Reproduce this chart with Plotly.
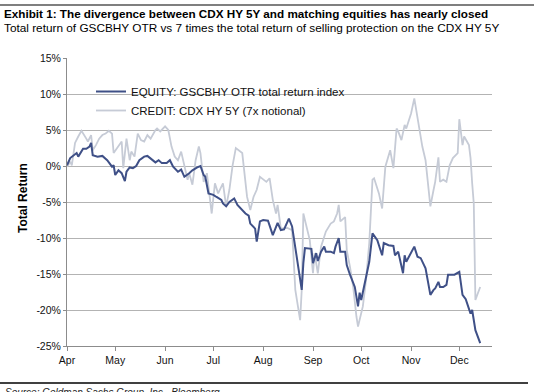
import plotly.graph_objects as go

# ---------------- data ----------------
equity_dates = [
    "2015-04-01", "2015-04-03", "2015-04-07", "2015-04-08", "2015-04-11", "2015-04-13",
    "2015-04-15", "2015-04-16", "2015-04-17", "2015-04-20", "2015-04-23", "2015-04-26",
    "2015-04-29", "2015-04-30", "2015-05-01", "2015-05-03", "2015-05-05", "2015-05-07",
    "2015-05-08", "2015-05-10", "2015-05-12", "2015-05-14", "2015-05-16", "2015-05-19",
    "2015-05-21", "2015-05-24", "2015-05-26", "2015-05-28", "2015-05-30", "2015-06-02",
    "2015-06-04", "2015-06-06", "2015-06-09", "2015-06-11", "2015-06-13", "2015-06-16",
    "2015-06-18", "2015-06-21", "2015-06-23", "2015-06-25", "2015-06-26", "2015-06-28",
    "2015-07-01", "2015-07-03", "2015-07-06", "2015-07-07", "2015-07-09", "2015-07-11",
    "2015-07-14", "2015-07-16", "2015-07-18", "2015-07-21", "2015-07-23", "2015-07-24",
    "2015-07-27", "2015-07-28", "2015-07-30", "2015-08-01", "2015-08-04", "2015-08-07",
    "2015-08-10", "2015-08-12", "2015-08-14", "2015-08-17", "2015-08-19", "2015-08-21",
    "2015-08-23", "2015-08-25", "2015-08-26", "2015-08-27", "2015-08-31", "2015-09-01",
    "2015-09-03", "2015-09-04", "2015-09-06", "2015-09-08", "2015-09-09", "2015-09-12",
    "2015-09-14", "2015-09-15", "2015-09-17", "2015-09-18", "2015-09-21", "2015-09-22",
    "2015-09-24", "2015-09-27", "2015-09-29", "2015-09-30", "2015-10-01", "2015-10-04",
    "2015-10-06", "2015-10-08", "2015-10-11", "2015-10-14", "2015-10-15", "2015-10-18",
    "2015-10-21", "2015-10-22", "2015-10-24", "2015-10-27", "2015-10-28", "2015-10-29",
    "2015-11-03", "2015-11-05", "2015-11-07", "2015-11-10", "2015-11-13", "2015-11-15",
    "2015-11-16", "2015-11-18", "2015-11-19", "2015-11-21", "2015-11-23", "2015-11-24",
    "2015-11-26", "2015-11-28", "2015-12-01", "2015-12-03", "2015-12-05", "2015-12-08",
    "2015-12-09", "2015-12-11", "2015-12-14",
]
equity_values = [
    0.1, 1.1, 1.8, 1.3, 2.4, 2.4,
    2.7, 3.2, 1.5, 1.3, 1.4, 0.8,
    -0.1, 0.1, -1.25, -0.6, -1.0, -2.1,
    -0.8, -0.2, -0.3, 0.0, 0.8, 1.3,
    1.4, 0.9, 0.5, 0.8, 0.4, 0.4,
    0.8, -0.1, -0.8, -0.5, -1.5, -1.0,
    -0.6, -0.2, 0.0, -1.25, -1.5, -3.8,
    -4.0, -4.3, -4.7, -5.2, -5.6, -5.0,
    -4.5, -5.4, -5.9, -6.6, -6.9, -8.0,
    -8.7, -10.5, -7.7, -7.5, -7.6, -9.6,
    -7.9, -8.9, -8.8, -7.3, -8.4, -11.2,
    -14.2, -17.2, -13.5, -11.4, -11.5, -13.5,
    -12.1, -13.2, -11.9, -11.2, -11.9, -11.9,
    -12.1, -11.2, -10.0, -11.9, -11.9, -13.75,
    -15.1, -16.8, -19.5, -17.6, -18.6, -15.4,
    -13.3, -9.35, -10.3, -12.4, -10.7, -11.0,
    -11.1, -12.4, -11.9, -14.9, -12.4, -13.3,
    -11.2, -12.6, -12.8, -14.2, -17.9, -17.2,
    -17.0, -16.1, -16.8, -16.8, -16.5, -15.1,
    -15.1, -15.1, -14.7, -17.9, -18.5, -20.5,
    -20.0, -22.8, -24.6,
]

credit_dates = [
    "2015-04-01", "2015-04-03", "2015-04-04", "2015-04-06", "2015-04-08", "2015-04-10",
    "2015-04-13", "2015-04-14", "2015-04-16", "2015-04-17", "2015-04-19", "2015-04-21",
    "2015-04-23", "2015-04-25", "2015-04-27", "2015-04-29", "2015-04-30", "2015-05-02",
    "2015-05-05", "2015-05-06", "2015-05-08", "2015-05-10", "2015-05-11", "2015-05-13",
    "2015-05-15", "2015-05-17", "2015-05-19", "2015-05-21", "2015-05-23", "2015-05-26",
    "2015-05-27", "2015-05-29", "2015-06-01", "2015-06-03", "2015-06-05", "2015-06-07",
    "2015-06-09", "2015-06-11", "2015-06-13", "2015-06-15", "2015-06-16", "2015-06-18",
    "2015-06-20", "2015-06-22", "2015-06-23", "2015-06-25", "2015-06-27", "2015-06-30",
    "2015-07-02", "2015-07-04", "2015-07-07", "2015-07-09", "2015-07-11", "2015-07-13",
    "2015-07-15", "2015-07-17", "2015-07-19", "2015-07-22", "2015-07-24", "2015-07-26",
    "2015-07-28", "2015-07-30", "2015-08-03", "2015-08-05", "2015-08-07", "2015-08-09",
    "2015-08-10", "2015-08-12", "2015-08-16", "2015-08-19", "2015-08-21", "2015-08-24",
    "2015-08-25", "2015-08-26", "2015-08-28", "2015-08-30", "2015-09-01", "2015-09-02",
    "2015-09-04", "2015-09-06", "2015-09-09", "2015-09-12", "2015-09-14", "2015-09-16",
    "2015-09-17", "2015-09-18", "2015-09-21", "2015-09-22", "2015-09-24", "2015-09-26",
    "2015-09-28", "2015-09-29", "2015-10-02", "2015-10-04", "2015-10-06", "2015-10-07",
    "2015-10-08", "2015-10-09", "2015-10-12", "2015-10-14", "2015-10-16", "2015-10-19",
    "2015-10-21", "2015-10-23", "2015-10-24", "2015-10-26", "2015-10-28", "2015-10-29",
    "2015-11-01", "2015-11-03", "2015-11-05", "2015-11-06", "2015-11-08", "2015-11-10",
    "2015-11-13", "2015-11-15", "2015-11-16", "2015-11-18", "2015-11-19", "2015-11-21",
    "2015-11-23", "2015-11-25", "2015-11-27", "2015-11-30", "2015-12-01", "2015-12-03",
    "2015-12-04", "2015-12-07", "2015-12-08", "2015-12-09", "2015-12-10", "2015-12-11",
    "2015-12-14",
]
credit_values = [
    -0.1, 0.6, 0.1, 3.2, 4.1, 4.9,
    3.8, 3.4, 4.3, 2.2, 2.9, 3.8,
    4.3, 4.5, 4.9, 4.5, 1.8, 2.5,
    3.4, -0.3, 3.8, 0.8, 2.0, 1.3,
    4.5, 3.6, 3.4, 4.3, 3.8, 5.0,
    5.2, 4.8, 5.5, 5.0, 2.7, 1.3,
    0.8, 2.0, 0.1, -1.9, -1.0, -2.6,
    0.8, 2.7, 1.8, -2.2, -1.0, -6.6,
    -2.4, -3.8, -2.4, -5.6, -3.3, 0.1,
    2.5, 2.2, 1.8, -4.3, -6.1, -4.3,
    -3.3, -1.5, -2.2, -1.7, -4.7, -6.6,
    -5.4, -8.7, -8.6, -8.9, -17.2, -21.4,
    -17.2, -6.6, -8.4, -10.3, -14.9, -12.1,
    -14.9, -11.2, -9.1, -8.0, -7.7, -6.6,
    -5.4, -7.7, -7.1, -11.7, -14.0, -16.8,
    -20.9, -22.3, -19.5, -15.8, -10.7, -5.2,
    -1.9, -1.7, -3.8, -5.9, -0.1, 2.2,
    -0.3, 5.2, 4.8, 3.6, 5.7, 5.2,
    7.3, 9.4, 6.6, 5.0, 2.7, 0.8,
    -5.6, -3.3, -2.2, 1.2, -2.2, -1.9,
    -2.2, 0.1, 1.1, 1.8, 6.5, 2.9,
    4.1, 2.9, 1.1, -2.4, -5.2, -18.6,
    -16.8,
]

series_names = ["EQUITY: GSCBHY OTR total return index", "CREDIT: CDX HY 5Y (7x notional)"]
y_tick_values = [15, 10, 5, 0, -5, -10, -15, -20, -25]
y_tick_labels = ["15%", "10%", "5%", "0%", "-5%", "-10%", "-15%", "-20%", "-25%"]

title_text = "Exhibit 1: The divergence between CDX HY 5Y and matching equities has nearly closed"
subtitle_text = "Total return of GSCBHY OTR vs 7 times the total return of selling protection on the CDX HY 5Y"
source_text = "Source: Goldman Sachs Group, Inc., Bloomberg"

# ---------------- layout geometry ----------------
W, H = 534, 392
L, R, T, B = 67, 42, 58, 46
PW, PH = W - L - R, H - T - B
FONT = "Arial, 'Liberation Sans', Helvetica, sans-serif"


def px_x(x):
    return (x - L) / PW


def px_y(y):
    return (H - B - y) / PH


fig = go.Figure()
fig.add_trace(go.Scatter(
    x=credit_dates, y=credit_values, mode="lines", name=series_names[1],
    line=dict(color="#c6cbd6", width=1.8),
))
fig.add_trace(go.Scatter(
    x=equity_dates, y=equity_values, mode="lines", name=series_names[0],
    line=dict(color="#3f5087", width=2),
))

fig.update_layout(
    width=W, height=H,
    margin=dict(l=L, r=R, t=T, b=B),
    paper_bgcolor="white", plot_bgcolor="white",
    font=dict(family=FONT, size=11, color="#000000"),
    showlegend=True,
    legend=dict(
        x=px_x(91), y=px_y(77), xanchor="left", yanchor="top",
        bgcolor="rgba(0,0,0,0)", font=dict(size=11.5, color="#111111"),
        traceorder="reversed", itemwidth=30, tracegroupgap=0,
    ),
    xaxis=dict(
        type="date",
        range=["2015-04-01", "2015-12-21 08:00"],
        tick0="2015-04-01", dtick="M1", tickformat="%b",
        showgrid=False, zeroline=False,
        showline=True, linecolor="#8c8c8c", linewidth=1,
        ticks="outside", ticklen=4, tickcolor="#8c8c8c",
        tickfont=dict(size=10.5, color="#111111"),
    ),
    yaxis=dict(
        range=[-25, 15],
        tickvals=y_tick_values, ticktext=y_tick_labels,
        showgrid=True, gridcolor="#b3b3b3", gridwidth=1,
        zeroline=False,
        showline=True, linecolor="#8c8c8c", linewidth=1,
        ticks="outside", ticklen=3, tickcolor="#8c8c8c",
        tickfont=dict(size=10.5, color="#111111"),
    ),
)

annotations = [
    dict(text="<b>" + title_text + "</b>", x=px_x(2), y=px_y(13),
         xanchor="left", yanchor="middle", font=dict(size=11.7, color="#000000")),
    dict(text=subtitle_text, x=px_x(2), y=px_y(27.5),
         xanchor="left", yanchor="middle", font=dict(size=11.8, color="#000000")),
    dict(text="<b>Total Return</b>", x=px_x(23), y=px_y(198), textangle=-90,
         xanchor="center", yanchor="middle", font=dict(size=12, color="#000000")),
    dict(text="<i>" + source_text + "</i>", x=px_x(3), y=px_y(385),
         xanchor="left", yanchor="top", font=dict(size=10, color="#222222")),
]
for a in annotations:
    a.update(xref="paper", yref="paper", showarrow=False)
fig.update_layout(annotations=annotations)

fig.update_layout(shapes=[
    dict(type="line", xref="paper", yref="paper", x0=px_x(0), x1=px_x(W),
         y0=px_y(5), y1=px_y(5), line=dict(color="#000000", width=1.2)),
    dict(type="line", xref="paper", yref="paper", x0=px_x(0), x1=px_x(528),
         y0=px_y(383), y1=px_y(383), line=dict(color="#000000", width=1.5)),
])

fig.write_html(
    "out.html",
    config={"displayModeBar": False},
    post_script="document.body.style.margin='0';document.body.style.padding='0';",
)
